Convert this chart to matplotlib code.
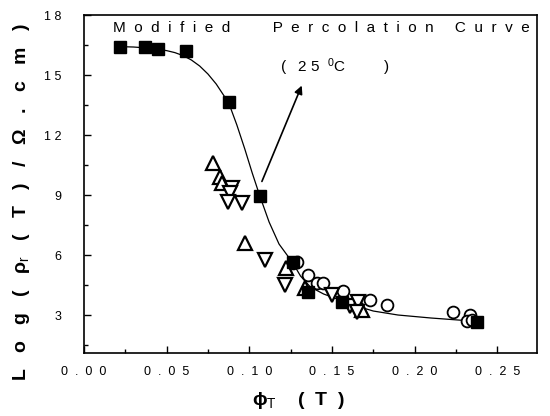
import matplotlib
matplotlib.use("Agg")
import matplotlib.pyplot as plt
from matplotlib.ticker import MultipleLocator

plt.rcParams['font.family'] = ['Liberation Sans', 'DejaVu Sans']
plt.rcParams['mathtext.fontset'] = 'custom'
plt.rcParams['mathtext.rm'] = 'Liberation Sans'
plt.rcParams['mathtext.it'] = 'Liberation Sans'
plt.rcParams['mathtext.bf'] = 'Liberation Sans:bold'

# 实心方块（修正渗流曲线的点）
sq_x = [0.0215, 0.037, 0.045, 0.0615, 0.0876, 0.1064, 0.1264, 0.1355, 0.156, 0.238]
sq_y = [16.42, 16.38, 16.3, 16.2, 13.67, 8.95, 5.65, 4.15, 3.65, 2.65]

# 空心正三角
up_x = [0.0779, 0.0821, 0.0833, 0.0973, 0.1221, 0.1336, 0.168]
up_y = [10.6, 9.9, 9.6, 6.6, 5.35, 4.35, 3.25]

# 空心倒三角
dn_x = [0.0894, 0.0882, 0.087, 0.0955, 0.1094, 0.1215, 0.150, 0.161, 0.1658, 0.1652]
dn_y = [9.35, 9.1, 8.65, 8.6, 5.75, 4.5, 4.0, 3.45, 3.65, 3.15]

# 空心圆
ci_x = [0.1264, 0.1288, 0.1355, 0.141, 0.1445, 0.1567, 0.173, 0.1833, 0.2233, 0.2336, 0.2318, 0.2348]
ci_y = [5.6, 5.65, 5.0, 4.6, 4.6, 4.2, 3.75, 3.5, 3.15, 3.0, 2.7, 2.75]

# 拟合曲线（从图上读出的点）
cv_x = [0.0215, 0.03, 0.04, 0.05, 0.055, 0.06, 0.065, 0.07, 0.075, 0.08, 0.0876, 0.0925, 0.0973,
        0.1018, 0.1064, 0.112, 0.118, 0.1264, 0.131, 0.137, 0.145, 0.156, 0.165, 0.175, 0.19,
        0.21, 0.238]
cv_y = [16.42, 16.4, 16.34, 16.22, 16.12, 15.97, 15.75, 15.45, 15.05, 14.55, 13.6, 12.5, 11.3,
        10.1, 8.95, 7.65, 6.55, 5.6, 4.95, 4.4, 4.05, 3.72, 3.45, 3.2, 3.0,
        2.85, 2.68]

x_ticks = [0.0, 0.05, 0.10, 0.15, 0.20, 0.25]
x_labels = ['0  .  0  0', '0  .  0  5', '0  .  1  0', '0  .  1  5', '0  .  2  0', '0  .  2  5']
y_ticks = [3, 6, 9, 12, 15, 18]
y_labels = ['3', '6', '9', '1 2', '1 5', '1 8']

# 箭头：尾部和头部
arrow_tail = (0.107, 9.55)
arrow_head = (0.1324, 14.6)

fig = plt.figure(figsize=(5.5, 4.16), dpi=100)
ax = fig.add_axes([0.1527, 0.1514, 0.824, 0.8125])

ax.plot(cv_x, cv_y, '-', color='black', lw=0.9, zorder=2)
ax.plot(ci_x, ci_y, 'o', ms=8.5, mfc='white', mec='black', mew=1.3, zorder=3)
ax.plot(up_x, up_y, '^', ms=10, mfc='white', mec='black', mew=1.6, zorder=3)
ax.plot(dn_x, dn_y, 'v', ms=10, mfc='white', mec='black', mew=1.6, zorder=3)
ax.plot(sq_x, sq_y, 's', ms=8.5, mfc='black', mec='black', zorder=4)

ax.annotate('', xy=arrow_head, xytext=arrow_tail,
            arrowprops=dict(arrowstyle='-|>', color='black', lw=1.2, mutation_scale=12))

title = ('M  o  d  i  f  i  e  d' + ' ' * 10 + 'P  e  r  c  o  l  a  t  i  o  n'
         + ' ' * 5 + 'C  u  r  v  e')
ax.text(0.0175, 17.35, title, fontsize=11, ha='left', va='center')
ax.text(0.1518, 15.4, '(   2 5  $^{0}$C         )', fontsize=11, ha='center', va='center')

ax.set_xlim(0, 0.2742)
ax.set_ylim(1.1, 18)
ax.set_xticks(x_ticks, x_labels)
ax.set_yticks(y_ticks, y_labels)
ax.xaxis.set_minor_locator(MultipleLocator(0.025))
ax.yaxis.set_minor_locator(MultipleLocator(1.5))
ax.tick_params(which='major', direction='in', length=5, width=1, labelsize=9)
ax.tick_params(which='minor', direction='in', length=3, width=1)
ax.tick_params(axis='y', which='major', pad=16)
ax.tick_params(axis='x', which='major', pad=9)
for s in ax.spines.values():
    s.set_linewidth(1.2)

fig.text(0.04, 0.514, 'L   o   g   (   ρ$_{r}$   (   T   )   /   Ω   .   c   m   )', rotation=90,
         fontsize=14, fontweight='bold', ha='center', va='center')
fig.text(0.542, 0.038, 'ϕ$_{T}$    (  T  )', fontsize=14, fontweight='bold',
         ha='center', va='center')

fig.savefig('out.png', dpi=100)
